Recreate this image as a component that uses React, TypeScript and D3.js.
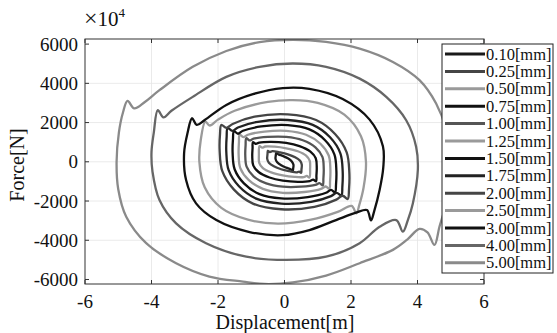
import React from 'react';
import * as d3 from 'd3';

const amplitudeLabels = ['0.10[mm]', '0.25[mm]', '0.50[mm]', '0.75[mm]', '1.00[mm]', '1.25[mm]', '1.50[mm]', '1.75[mm]', '2.00[mm]', '2.50[mm]', '3.00[mm]', '4.00[mm]', '5.00[mm]'];
const seriesColors = ['#1a1a1a', '#454545', '#9a9a9a', '#111111', '#555555', '#9a9a9a', '#111111', '#222222', '#454545', '#9a9a9a', '#111111', '#666666', '#8a8a8a'];

const xTicks = [-6, -4, -2, 0, 2, 4, 6];
const yTicks = [-6000, -4000, -2000, 0, 2000, 4000, 6000];

const loop010 = [[-0.25, 450], [-0.18, 380], [-0.05, 300], [0.1, 180], [0.22, 20], [0.27, -150], [0.26, -350], [0.25, -450], [0.18, -380], [0.05, -300], [-0.1, -180], [-0.22, -20], [-0.27, 150], [-0.26, 350]];
const loop025 = [[-0.5, 560], [-0.44, 500], [-0.36, 540], [-0.15, 480], [0.1, 380], [0.32, 230], [0.47, 50], [0.52, -150], [0.51, -400], [0.5, -560], [0.44, -500], [0.36, -540], [0.15, -480], [-0.1, -380], [-0.32, -230], [-0.47, -50], [-0.52, 150], [-0.51, 400]];
const loop050 = [[-0.75, 800], [-0.67, 720], [-0.58, 780], [-0.3, 770], [0.05, 690], [0.4, 540], [0.65, 320], [0.76, 50], [0.77, -350], [0.75, -800], [0.67, -720], [0.58, -780], [0.3, -770], [-0.05, -690], [-0.4, -540], [-0.65, -320], [-0.76, -50], [-0.77, 350]];
const loop075 = [[-0.95, 1000], [-0.86, 910], [-0.76, 980], [-0.4, 1020], [0.05, 960], [0.45, 800], [0.78, 520], [0.94, 180], [0.97, -300], [0.96, -700], [0.95, -1000], [0.86, -910], [0.76, -980], [0.4, -1020], [-0.05, -960], [-0.45, -800], [-0.78, -520], [-0.94, -180], [-0.97, 300], [-0.96, 700]];
const loop100 = [[-1.15, 1200], [-1.05, 1090], [-0.93, 1180], [-0.5, 1270], [0.05, 1270], [0.55, 1100], [0.93, 740], [1.14, 250], [1.18, -350], [1.17, -850], [1.15, -1200], [1.05, -1090], [0.93, -1180], [0.5, -1270], [-0.05, -1270], [-0.55, -1100], [-0.93, -740], [-1.14, -250], [-1.18, 350], [-1.17, 850]];
const loop125 = [[-1.35, 1380], [-1.24, 1260], [-1.1, 1380], [-0.6, 1540], [0.05, 1580], [0.65, 1380], [1.08, 920], [1.33, 320], [1.38, -400], [1.37, -1000], [1.35, -1380], [1.24, -1260], [1.1, -1380], [0.6, -1540], [-0.05, -1580], [-0.65, -1380], [-1.08, -920], [-1.33, -320], [-1.38, 400], [-1.37, 1000]];
const loop150 = [[-1.52, 1560], [-1.4, 1430], [-1.25, 1580], [-0.7, 1800], [0.1, 1870], [0.75, 1650], [1.22, 1100], [1.5, 380], [1.56, -450], [1.55, -1150], [1.52, -1560], [1.4, -1430], [1.25, -1580], [0.7, -1800], [-0.1, -1870], [-0.75, -1650], [-1.22, -1100], [-1.5, -380], [-1.56, 450], [-1.55, 1150]];
const loop175 = [[-1.71, 1720], [-1.57, 1580], [-1.4, 1750], [-0.8, 2040], [0.1, 2130], [0.85, 1880], [1.37, 1250], [1.68, 430], [1.75, -500], [1.74, -1280], [1.71, -1720], [1.57, -1580], [1.4, -1750], [0.8, -2040], [-0.1, -2130], [-0.85, -1880], [-1.37, -1250], [-1.68, -430], [-1.75, 500], [-1.74, 1280]];
const loop200 = [[-1.9, 1880], [-1.75, 1730], [-1.56, 1930], [-0.9, 2300], [0.1, 2420], [0.95, 2130], [1.52, 1420], [1.87, 480], [1.95, -550], [1.94, -1400], [1.9, -1900], [1.75, -1730], [1.56, -1930], [0.9, -2300], [-0.1, -2420], [-0.95, -2130], [-1.52, -1420], [-1.87, -480], [-1.95, 550], [-1.94, 1400]];
const loop250 = [[-2.4, -1300], [-2.56, 0], [-2.52, 1100], [-2.38, 2050], [-2.25, 1850], [-2.0, 2150], [-1.5, 2600], [-0.5, 3050], [0.25, 3140], [1.0, 3000], [1.8, 2400], [2.3, 1300], [2.45, 0], [2.38, -1300], [2.25, -2200], [2.16, -2630], [2.02, -2250], [1.6, -2550], [0.8, -2950], [-0.2, -3150], [-1.1, -2950], [-1.9, -2350]];
const loop300 = [[-2.66, -2120], [-2.96, -930], [-3.02, 430], [-2.92, 1440], [-2.78, 2220], [-2.64, 1880], [-2.4, 2130], [-1.75, 2900], [-0.95, 3450], [-0.05, 3760], [0.75, 3720], [1.75, 3200], [2.56, 2150], [2.96, 790], [2.97, -300], [2.86, -1440], [2.7, -2500], [2.6, -2990], [2.48, -2460], [2.15, -2590], [1.55, -2970], [0.75, -3480], [-0.05, -3740], [-1.05, -3580], [-2.05, -2970]];
const loop400 = [[-3.26, -3140], [-3.76, -1950], [-3.97, -500], [-4.0, 500], [-3.93, 1500], [-3.81, 2630], [-3.64, 2260], [-3.4, 2600], [-2.76, 3310], [-1.75, 4330], [-0.75, 4840], [0.25, 5010], [1.25, 4840], [2.26, 4240], [3.06, 3310], [3.66, 2120], [3.96, 760], [4.01, -420], [3.86, -2120], [3.71, -2970], [3.56, -3560], [3.36, -2970], [2.86, -3310], [2.26, -4150], [1.25, -4840], [0.05, -5000], [-1.15, -4840], [-2.36, -4150]];
const loop500 = [[-4.76, -2800], [-5.0, -1400], [-5.05, 0], [-4.98, 1500], [-4.86, 2500], [-4.72, 3100], [-4.52, 2720], [-4.2, 3050], [-3.76, 3650], [-2.76, 4840], [-1.75, 5650], [-0.75, 6100], [0.25, 6220], [1.25, 6110], [2.26, 5770], [3.26, 5090], [4.06, 4160], [4.56, 2970], [4.85, 1700], [4.97, 300], [4.93, -1200], [4.8, -2500], [4.66, -3310], [4.51, -4240], [4.3, -3600], [4.06, -3420], [3.7, -3950], [3.26, -4490], [2.26, -5170], [1.25, -5800], [0.25, -6150], [-0.6, -6230], [-1.25, -6110], [-2.26, -5850], [-3.26, -5170], [-4.16, -4150]];

const loops = [loop010, loop025, loop050, loop075, loop100, loop125, loop150, loop175, loop200, loop250, loop300, loop400, loop500];

const FONT = '"Liberation Serif", "Times New Roman", serif';

export default function App() {
  const W = 557;
  const H = 333;
  const x = d3.scaleLinear().domain([-6, 6]).range([85, 484]);
  const y = d3.scaleLinear().domain([-6230, 6260]).range([284, 39]);
  const [x0, x1] = x.range();
  const [y0, y1] = [y(6260), y(-6230)];

  const line = d3
    .line<number[]>()
    .x((d) => x(d[0]))
    .y((d) => y(d[1]))
    .curve(d3.curveCatmullRomClosed.alpha(0.5));

  const legendX = 442;
  const legendY = 44;
  const legendW = 111;
  const legendRow = 17.4;
  const legendH = 229;

  return (
    <svg
      width={W}
      height={H}
      style={{ position: 'absolute', left: 0, top: 0, background: '#fff' }}
      fontFamily={FONT}
    >
      <rect x={0} y={0} width={W} height={H} fill="#fff" />
      <defs>
        <clipPath id="plotClip">
          <rect x={x0} y={y0} width={x1 - x0} height={y1 - y0} />
        </clipPath>
      </defs>
      {xTicks.slice(1, -1).map((t) => (
        <line key={'gx' + t} x1={x(t)} x2={x(t)} y1={y0} y2={y1} stroke="#e4e4e4" strokeWidth={0.8} />
      ))}
      {yTicks.slice(1, -1).map((t) => (
        <line key={'gy' + t} x1={x0} x2={x1} y1={y(t)} y2={y(t)} stroke="#e4e4e4" strokeWidth={0.8} />
      ))}
      <g clipPath="url(#plotClip)">
        {loops.map((pts, i) => (
          <path
            key={'l' + i}
            d={line(pts) || ''}
            fill="none"
            stroke={seriesColors[i]}
            strokeWidth={2.3}
            strokeLinejoin="round"
          />
        ))}
      </g>
      <rect x={x0} y={y0} width={x1 - x0} height={y1 - y0} fill="none" stroke="#333" strokeWidth={1} />
      {xTicks.map((t) => (
        <g key={'tx' + t}>
          <line x1={x(t)} x2={x(t)} y1={y1} y2={y1 - 4} stroke="#333" />
          <line x1={x(t)} x2={x(t)} y1={y0} y2={y0 + 4} stroke="#333" />
          <text x={x(t)} y={308} textAnchor="middle" fontSize={19} fill="#111" fontFamily={FONT}>
            {t}
          </text>
        </g>
      ))}
      {yTicks.map((t) => (
        <g key={'ty' + t}>
          <line x1={x0} x2={x0 + 4} y1={y(t)} y2={y(t)} stroke="#333" />
          <line x1={x1} x2={x1 - 4} y1={y(t)} y2={y(t)} stroke="#333" />
          <text x={78} y={y(t) + 6.5} textAnchor="end" fontSize={19} fill="#111" fontFamily={FONT}>
            {t}
          </text>
        </g>
      ))}
      <text x={285} y={329} textAnchor="middle" fontSize={20} fill="#111" fontFamily={FONT}>
        Displacement[m]
      </text>
      <text
        transform={`translate(24, ${165}) rotate(-90)`}
        textAnchor="middle"
        fontSize={20}
        fill="#111"
        fontFamily={FONT}
      >
        Force[N]
      </text>
      <text x={84} y={26} fontSize={21} fill="#111" fontFamily={FONT}>
        <tspan fontSize={24}>×</tspan>
        <tspan>10</tspan>
        <tspan dy={-9} fontSize={13}>
          4
        </tspan>
      </text>
      <rect x={legendX} y={legendY} width={legendW} height={legendH} fill="#fff" stroke="#222" strokeWidth={1} />
      {amplitudeLabels.map((lab, i) => {
        const cy = legendY + 10 + i * legendRow;
        return (
          <g key={'lg' + i}>
            <line x1={legendX + 3} x2={legendX + 43} y1={cy} y2={cy} stroke={seriesColors[i]} strokeWidth={3} />
            <text x={legendX + 44} y={cy + 5.5} fontSize={16.5} fill="#111" fontFamily={FONT}>
              {lab}
            </text>
          </g>
        );
      })}
    </svg>
  );
}
